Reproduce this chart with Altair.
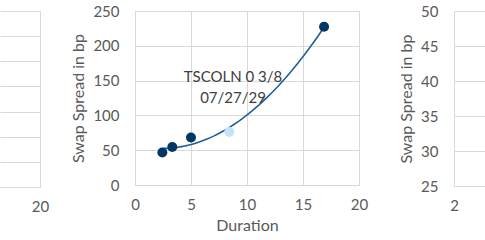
import altair as alt
import pandas as pd

# ---- data ----
duration = [2.44, 3.33, 5.0, 8.42, 16.88]
spread = [46.6, 54.7, 68.2, 76.3, 227.4]
highlight = ["other", "other", "other", "TSCOLN", "other"]

mid_x_ticks = [0, 5, 10, 15, 20]
mid_y_ticks = [0, 50, 100, 150, 200, 250]
left_x_ticks = [20]
left_y_ticks = [0, 1, 2, 3, 4, 5, 6, 7]
right_x_ticks = [2]
right_y_ticks = [25, 30, 35, 40, 45, 50]

label_text = ["TSCOLN 0 3/8\n07/27/29"]
label_x = [8.75]
label_y = [155.5]

FONT = "Lato"
GRID = "#D9D9D9"
LAB = "#595959"
DARK = "#003865"
LIGHT = "#C5E3F7"
CURVE = "#1F5F99"

df = pd.DataFrame({"duration": duration, "spread": spread, "kind": highlight})
lab_df = pd.DataFrame({"duration": label_x, "spread": label_y, "t": label_text})


def xaxis(values, title=""):
    return alt.Axis(values=values, grid=True, gridColor=GRID, domainColor=GRID,
                    ticks=False, labelPadding=12, labelFlush=False, labelOverlap=False,
                    format="d", labelColor=LAB,
                    labelFontSize=15, labelFont=FONT, title=title, titleFont=FONT,
                    titleFontSize=16, titleColor=LAB, titleFontWeight="normal",
                    titlePadding=5)


def yaxis(values, labels=True, title=""):
    return alt.Axis(values=values, grid=True, gridColor=GRID, domainColor=GRID,
                    ticks=False, labels=labels, labelPadding=16, labelOverlap=False,
                    format="d", labelColor=LAB,
                    labelFontSize=15, labelFont=FONT, title=title, titleFont=FONT,
                    titleFontSize=16, titleColor=LAB, titleFontWeight="normal",
                    titlePadding=6, domain=labels)


# left (cropped) panel
left = alt.Chart(pd.DataFrame({"x": [20], "y": [0]})).mark_point(opacity=0).encode(
    x=alt.X("x:Q", scale=alt.Scale(domain=[16.43, 20], nice=False), axis=xaxis(left_x_ticks)),
    y=alt.Y("y:Q", scale=alt.Scale(domain=[0, 7], nice=False), axis=yaxis(left_y_ticks, labels=False)),
).properties(width=40, height=176)

# middle panel
xs = alt.X("duration:Q", scale=alt.Scale(domain=[0, 20], nice=False),
           axis=xaxis(mid_x_ticks, "Duration"))
ys = alt.Y("spread:Q", scale=alt.Scale(domain=[0, 250], nice=False),
           axis=yaxis(mid_y_ticks, title="Swap Spread in bp"))

base = alt.Chart(df)
trend = base.transform_regression("duration", "spread", method="poly", order=2).mark_line(
    color=CURVE, strokeWidth=1.6).encode(x=xs, y=ys)
pts = base.mark_circle(size=100, opacity=1).encode(
    x=xs, y=ys,
    color=alt.Color("kind:N", scale=alt.Scale(domain=["other", "TSCOLN"], range=[DARK, LIGHT]), legend=None),
)
txt = alt.Chart(lab_df).mark_text(
    font=FONT, fontSize=15, color="#404040", lineBreak="\n", lineHeight=21,
    align="center", baseline="middle").encode(x=xs, y=ys, text="t:N")

mid = alt.layer(trend, pts, txt).properties(width=224, height=174)

# right (cropped) panel
right = alt.Chart(pd.DataFrame({"x": [2], "y": [25]})).mark_point(opacity=0).encode(
    x=alt.X("x:Q", scale=alt.Scale(domain=[2, 2.6], nice=False), axis=xaxis(right_x_ticks)),
    y=alt.Y("y:Q", scale=alt.Scale(domain=[25, 50], nice=False),
            axis=yaxis(right_y_ticks, title="Swap Spread in bp")),
).properties(width=31, height=175)

chart = alt.hconcat(left, mid, right, spacing=95, bounds="flush").properties(
    padding={"left": 0, "top": 4, "right": 0, "bottom": 0},
    background="white",
).configure_view(stroke=None).configure_axis(labelOverlap=False)

chart.save("out.html", embed_options={"renderer": "svg", "actions": False})
